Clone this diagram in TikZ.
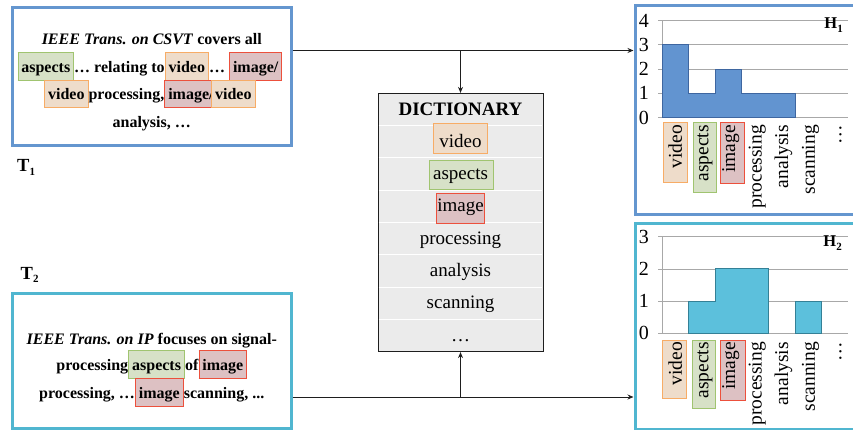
\documentclass[tikz,border=0pt]{standalone}
\usepackage{fontspec}
\setmainfont{Liberation Serif}
\usetikzlibrary{arrows.meta}

% palette
\definecolor{tblue}{RGB}{100,150,207}
\definecolor{tcyan}{RGB}{80,182,208}
\definecolor{barblue}{RGB}{98,148,208}
\definecolor{barblueline}{RGB}{62,102,160}
\definecolor{barcyan}{RGB}{92,192,220}
\definecolor{barcyanline}{RGB}{52,128,150}
\definecolor{orfill}{RGB}{238,220,202}
\definecolor{orline}{RGB}{247,172,102}
\definecolor{grfill}{RGB}{215,225,199}
\definecolor{grline}{RGB}{160,196,112}
\definecolor{rdfill}{RGB}{221,193,195}
\definecolor{rdline}{RGB}{236,80,60}
\definecolor{dictfill}{RGB}{235,235,235}
\definecolor{gridgray}{RGB}{168,168,168}

% inline highlighted words (zero net width, so spacing is unchanged)
\newcommand\hlbox[3]{{\setlength\fboxsep{3pt}\setlength\fboxrule{0.8pt}%
  \hspace{-3.8pt}\fcolorbox{#1}{#2}{\rule[-4.5pt]{0pt}{21pt}#3}\hspace{-3.8pt}}}
\newcommand\hlor[1]{\hlbox{orline}{orfill}{#1}}
\newcommand\hlgr[1]{\hlbox{grline}{grfill}{#1}}
\newcommand\hlrd[1]{\hlbox{rdline}{rdfill}{#1}}
\newcommand\subidx[1]{\raisebox{-3.5pt}{\fontsize{11}{11}\selectfont\bfseries #1}}

\begin{document}
\begin{tikzpicture}[x=1pt,y=-1pt,
  framebox/.style={draw, line width=3pt, rectangle, inner sep=0pt},
  ttext/.style={font=\fontsize{16}{19}\selectfont\bfseries, anchor=base, inner sep=0pt},
  tlabel/.style={font=\fontsize{18.5}{18.5}\selectfont\bfseries, anchor=base west, inner sep=0pt},
  hlabel/.style={font=\fontsize{16.5}{16.5}\selectfont\bfseries, anchor=base east, inner sep=0pt},
  dtext/.style={font=\fontsize{19}{19}\selectfont, anchor=base, inner sep=0pt},
  digit/.style={font=\fontsize{20}{20}\selectfont, anchor=east, inner sep=0pt},
  cat/.style={rotate=90, anchor=east, inner sep=0pt, font=\fontsize{19.5}{19.5}\selectfont,
              text height=13pt, text depth=4pt},
  conn/.style={line width=0.9pt, draw={rgb,255:red,30;green,30;blue,30},
               -{Stealth[length=6pt,width=5pt]}},
  grid/.style={draw=gridgray, line width=0.8pt},
  orbox/.style={fill=orfill, draw=orline, line width=0.8pt},
  grbox/.style={fill=grfill, draw=grline, line width=0.8pt},
  rdbox/.style={fill=rdfill, draw=rdline, line width=0.8pt},
  rowsep/.style={draw=white, line width=1.2pt}]

\path[use as bounding box] (0,0) rectangle (853,430);
\clip (0,0) rectangle (853,430);

% ---------- document T1 ----------
\node[framebox, draw=tblue, minimum width=278.5, minimum height=138] (t1box) at (151.75,76.5) {};
\node[ttext] (t1a) at (151.75,45) {\textit{IEEE Trans. on CSVT} covers all};
\node[ttext] (t1b) at (151.75,72.5) {\hlgr{aspects} … relating to \hlor{video} …~ \hlrd{image/}};
\node[ttext] (t1c) at (151.75,100) {\hlor{video} processing, \hlrd{image/}\hspace{1.5pt}\hlor{video}};
\node[ttext] (t1d) at (151.75,127.5) {analysis, …};
\node[tlabel] (t1lab) at (17,171.7) {T\subidx{1}};

% ---------- document T2 ----------
\node[framebox, draw=tcyan, minimum width=278.5, minimum height=134.8] (t2box) at (151.75,360.6) {};
\node[ttext] (t2a) at (151.75,344) {\textit{IEEE Trans. on IP} focuses on signal-};
\node[ttext] (t2b) at (151.75,370.7) {processing \hlgr{aspects} of \hlrd{image}};
\node[ttext] (t2c) at (151.75,398) {processing, … \hlrd{image} scanning, ...};
\node[tlabel] (t2lab) at (20.5,279) {T\subidx{2}};

% ---------- dictionary ----------
\node[draw={rgb,255:red,30;green,30;blue,30}, fill=dictfill, line width=0.8pt, rectangle,
      inner sep=0pt, minimum width=165, minimum height=258.4] (dict) at (460.5,222.5) {};
\foreach \yy in {125.6,157.9,190.2,222.5,254.8,287.1,319.4}
  \draw[rowsep] (378.6,\yy) -- (542.4,\yy);
\draw[orbox] (433,123) rectangle (487,153);
\draw[grbox] (429,160) rectangle (493,189);
\draw[rdbox] (436,193) rectangle (484,223);
\node[dtext, font=\fontsize{19}{19}\selectfont\bfseries] (dhead) at (460.5,115.1) {DICTIONARY};
\node[dtext] (dvideo) at (460.5,147.4) {video};
\node[dtext] (daspects) at (460.5,179.7) {aspects};
\node[dtext] (dimage) at (460.5,212) {image};
\node[dtext] (dproc) at (460.5,244.3) {processing};
\node[dtext] (danal) at (460.5,276.6) {analysis};
\node[dtext] (dscan) at (460.5,308.9) {scanning};
\node[dtext] (ddots) at (460.5,341.2) {…};

% ---------- histogram H1 ----------
\node[framebox, draw=tblue, minimum width=225, minimum height=208.8] (h1box) at (747.5,109.9) {};
\foreach \yy/\lab in {117.5/0,93.3/1,69.1/2,44.9/3,20.7/4}{
  \draw[grid] (658,\yy) -- (848,\yy);
  \node[digit] at (649,\yy) {\lab};
}
\draw[grid] (662,117.5) -- (662,20.7);
\filldraw[fill=barblue, draw=barblueline, line width=0.9pt]
  (662,117.5) -- (662,44.9) -- (688.6,44.9) -- (688.6,93.3) -- (715.2,93.3)
  -- (715.2,69.1) -- (741.8,69.1) -- (741.8,93.3) -- (795,93.3) -- (795,117.5) -- cycle;
\node[hlabel] (h1lab) at (843,29) {H\subidx{1}};
\draw[orbox] (663,122) rectangle (687,182);
\draw[grbox] (693,122) rectangle (716,192);
\draw[rdbox] (720,122) rectangle (744,183);
\node[cat] (h1c1) at (677.3,125) {video};
\node[cat] (h1c2) at (703.9,125) {aspects};
\node[cat] (h1c3) at (730.5,125) {image};
\node[cat] (h1c4) at (757.1,125) {processing};
\node[cat] (h1c5) at (783.7,125) {analysis};
\node[cat] (h1c6) at (810.3,125) {scanning};
\node[cat] (h1c7) at (836.9,125) {…};

% ---------- histogram H2 ----------
\node[framebox, draw=tcyan, minimum width=225, minimum height=206] (h2box) at (747.5,326.3) {};
\foreach \yy/\lab in {333.3/0,301.1/1,268.9/2,236.7/3}{
  \draw[grid] (658,\yy) -- (848,\yy);
  \node[digit] at (649,\yy) {\lab};
}
\draw[grid] (662,333.3) -- (662,236.7);
\filldraw[fill=barcyan, draw=barcyanline, line width=0.9pt]
  (688.6,333.3) -- (688.6,301.1) -- (715.2,301.1) -- (715.2,268.9)
  -- (768.4,268.9) -- (768.4,333.3) -- cycle;
\filldraw[fill=barcyan, draw=barcyanline, line width=0.9pt]
  (795,333.3) -- (795,301.1) -- (821.6,301.1) -- (821.6,333.3) -- cycle;
\node[hlabel] (h2lab) at (842,246.7) {H\subidx{2}};
\draw[orbox] (662,340) rectangle (686,398);
\draw[grbox] (692,340) rectangle (715,408);
\draw[rdbox] (720,340) rectangle (745,400);
\node[cat] (h2c1) at (677.3,342) {video};
\node[cat] (h2c2) at (703.9,342) {aspects};
\node[cat] (h2c3) at (730.5,342) {image};
\node[cat] (h2c4) at (757.1,342) {processing};
\node[cat] (h2c5) at (783.7,342) {analysis};
\node[cat] (h2c6) at (810.3,342) {scanning};
\node[cat] (h2c7) at (836.9,342) {…};

% ---------- connectors ----------
\coordinate (j1) at (460.5,50.5);
\coordinate (j2) at (460.5,397);
\draw[conn] (t1box.east |- j1) -- (h1box.west |- j1);
\draw[conn] (j1) -- (dict.north);
\draw[conn] (t2box.east |- j2) -- (h2box.west |- j2);
\draw[conn] (j2) -- (dict.south);
\end{tikzpicture}
\end{document}
